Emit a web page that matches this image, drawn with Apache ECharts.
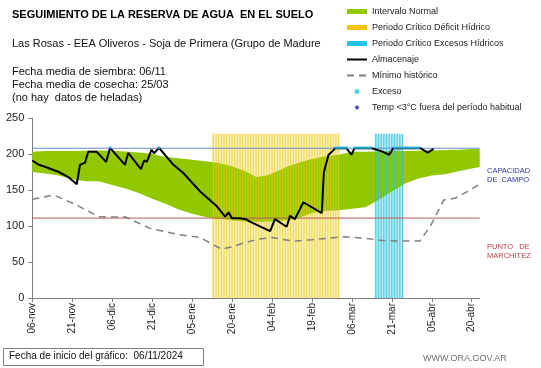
<!DOCTYPE html>
<html><head><meta charset="utf-8">
<script src="https://cdn.jsdelivr.net/npm/echarts@6/dist/echarts.min.js"></script>
<style>html,body{margin:0;padding:0;background:#fff}#c{width:541px;height:368px}</style>
</head><body><div id="c"></div>
<script>
// ---- data (day offsets from 06-nov-2024) ----
const xTickLabels = ['06-nov','21-nov','06-dic','21-dic','05-ene','20-ene','04-feb','19-feb','06-mar','21-mar','05-abr','20-abr'];
const normalDays = [0,5,10,15,20,25,30,35,40,45,50,55,60,65,70,75,80,84,88,92,96,100,105,110,115,120,125,130,135,140,145,150,155,160,165,168];
const normalHigh = [203,204,204,204,204.5,205,204.5,203.5,202,200,196,194,192,190,187.5,183,176,168,170,176,183,188,193,197,199,203,203,203.5,204,204,204.5,205,205.5,206,207,207];
const normalLow  = [175,173,170,165,162,162,157,152,146,138,131,123,117,112.5,110,108,106,106,106,107,108,111,118,121,122,124,126,136,148,159,166,170,172,176,180,182];
const almDays   = [0,2.5,5,10,13.5,16.7,17.3,17.9,19.8,21,24.2,27.7,29.2,34.8,36,40.8,42,43,44.8,45.7,47.6,53,56.6,63,69.4,72.4,73.7,75,78,80.5,81.7,89.3,91.1,95.5,96.8,98.6,101.8,108.7,109.5,111.2,113,113.7,118,119.8,121,127.5,131,134,135.5,145.7,148.5,150.7];
const almValues = [191,185,182,175,168,158,155.5,185,188,203,203,189,208.5,185,201.5,179,191,189,206,201,208.5,185,174,148,127,113,119,110.7,110.7,109,106,93,109.5,99,114,109.5,133,118,175,198.6,205,208,208,199,208,208,204,199,208,208,202,207];
const minDays   = [0,4,8,15,25,28,35,44,55,63,71,75,79,85,90,98,105,117,125,131,140,145.5,149.5,154.5,158.7,163,167.5];
const minValues = [137,140,143,132,113,112.5,112.5,97,88,84,68,71,76,82,84,79,81,85,83,80,79,79,100,136,138.5,147,157];
const excesoDays = [29.2,47.6,114,115,116,117,118,121,122,123,124,125,126,127,136,137,138,139,140,141,142,143,144,145];
const excesoValue = 209;
const deficitFirstDay = 68, deficitLastDay = 115;
const excesosFirstDay = 129, excesosLastDay = 139;
const criticalTop = 228;
const capacidadCampo = 208;
const puntoMarchitez = 111;
const axisMaxDay = 168;

// ---- build ----
const zip = (a, b) => a.map((v, i) => [v, b[i]]);
const range = (s, e) => { const r = []; for (let d = s; d <= e; d++) r.push(d); return r; };
const FONT = 'Liberation Sans, Arial, sans-serif';
const GREEN = '#92c800';
const DIAMOND = 'path://M5,0 L10,5 L5,10 L0,5 Z';

const chart = echarts.init(document.getElementById('c'));
chart.setOption({
  animation: false,
  textStyle: { fontFamily: FONT },
  grid: { left: 32.3, right: 61.3, top: 118, bottom: 70, containLabel: false, outerBoundsMode: 'none' },
  legend: {
    left: 346, top: 7, orient: 'vertical', itemWidth: 20, itemHeight: 5, itemGap: 7,
    padding: 0, symbolKeepAspect: true,
    textStyle: { fontSize: 9, color: '#222', fontFamily: FONT },
    data: [
      { name: 'Intervalo Normal', icon: 'rect', itemStyle: { color: GREEN, opacity: 1 } },
      { name: 'Periodo Crítico Déficit Hídrico', icon: 'rect', itemStyle: { color: '#f5c400', opacity: 1 } },
      { name: 'Periodo Crítico Excesos Hídricos', icon: 'rect', itemStyle: { color: '#22c4ee', opacity: 1 } },
      { name: 'Almacenaje', itemStyle: { opacity: 0 } },
      { name: 'Mínimo histórico', itemStyle: { opacity: 0 } },
      { name: 'Exceso', icon: 'circle' },
      { name: 'Temp <3°C fuera del período habitual', icon: DIAMOND }
    ]
  },
  xAxis: {
    type: 'value', min: 0, max: axisMaxDay, interval: 15,
    axisLine: { lineStyle: { color: '#808080' } },
    axisTick: { length: 4, lineStyle: { color: '#808080' } },
    splitLine: { show: false },
    axisLabel: {
      rotate: 90, fontSize: 10, color: '#222', margin: 5, showMaxLabel: false,
      formatter: v => (v % 15 === 0 && xTickLabels[v / 15]) ? xTickLabels[v / 15] : ''
    }
  },
  yAxis: {
    type: 'value', min: 0, max: 250, interval: 50,
    name: 'Milímetros', nameLocation: 'middle', nameGap: 31, nameRotate: 90,
    nameTextStyle: { fontSize: 7, color: '#111' },
    axisLine: { show: true, lineStyle: { color: '#808080' } },
    axisTick: { show: true, length: 4, lineStyle: { color: '#808080' } },
    splitLine: { show: false },
    axisLabel: { fontSize: 11, color: '#222', margin: 8 }
  },
  series: [
    {
      name: 'fondo', type: 'line', data: [], silent: true, z: 1,
      markArea: {
        silent: true,
        data: [
          [{ xAxis: deficitFirstDay - 0.5, yAxis: 0, itemStyle: { color: 'rgba(250,240,180,0.8)' } }, { xAxis: deficitLastDay + 0.4, yAxis: criticalTop }],
          [{ xAxis: excesosFirstDay - 0.5, yAxis: 0, itemStyle: { color: 'rgba(180,232,245,0.8)' } }, { xAxis: excesosLastDay + 0.4, yAxis: criticalTop }]
        ]
      }
    },
    {
      name: 'Intervalo Normal', type: 'custom', data: [[0, 0]], z: 2,
      itemStyle: { color: GREEN }, silent: true,
      renderItem: (params, api) => {
        if (params.dataIndex !== 0) return;
        const pts = [];
        normalDays.forEach((d, i) => pts.push(api.coord([d, normalHigh[i]])));
        for (let i = normalDays.length - 1; i >= 0; i--) pts.push(api.coord([normalDays[i], normalLow[i]]));
        return { type: 'polygon', shape: { points: pts }, style: { fill: GREEN } };
      }
    },
    {
      name: 'Periodo Crítico Déficit Hídrico', type: 'bar', barWidth: 1.2, barGap: '-100%',
      data: range(deficitFirstDay, deficitLastDay).map(d => [d, criticalTop]),
      itemStyle: { color: 'rgba(236,204,30,0.72)' }, z: 3
    },
    {
      name: 'Periodo Crítico Excesos Hídricos', type: 'bar', barWidth: 1.2, barGap: '-100%',
      data: range(excesosFirstDay, excesosLastDay).map(d => [d, criticalTop]),
      itemStyle: { color: 'rgba(30,190,220,0.7)' }, z: 3
    },
    {
      name: 'Capacidad de campo', type: 'line', data: [[0, capacidadCampo], [axisMaxDay, capacidadCampo]],
      symbol: 'none', lineStyle: { color: '#6a8fd0', width: 1 }, silent: true, z: 4
    },
    {
      name: 'Punto de marchitez', type: 'line', data: [[0, puntoMarchitez], [axisMaxDay, puntoMarchitez]],
      symbol: 'none', lineStyle: { color: '#b85a5a', width: 1 }, silent: true, z: 4
    },
    {
      name: 'Mínimo histórico', type: 'line', data: zip(minDays, minValues),
      symbol: 'none', itemStyle: { color: '#808080' },
      lineStyle: { color: '#808080', width: 1.5, type: [7, 5] }, z: 5
    },
    {
      name: 'Almacenaje', type: 'line', data: zip(almDays, almValues),
      symbol: 'none', itemStyle: { color: '#000' },
      lineStyle: { color: '#000', width: 2 }, z: 6
    },
    {
      name: 'Exceso', type: 'scatter', data: excesoDays.map(d => [d, excesoValue]),
      symbol: 'circle', symbolSize: 3, itemStyle: { color: '#2ccbee' }, z: 7
    },
    {
      name: 'Temp <3°C fuera del período habitual', type: 'scatter', data: [],
      symbol: DIAMOND, symbolSize: 5, itemStyle: { color: '#1c1ca0' }, z: 7
    }
  ],
  graphic: [
    { type: 'text', left: 12, top: 9, style: { text: 'SEGUIMIENTO DE LA RESERVA DE AGUA  EN EL SUELO', font: 'bold 11px ' + FONT, fill: '#000' } },
    { type: 'text', left: 12, top: 38, style: { text: 'Las Rosas - EEA Oliveros - Soja de Primera (Grupo de Madure', font: '11px ' + FONT, fill: '#111' } },
    { type: 'text', left: 12, top: 66, style: { text: 'Fecha media de siembra: 06/11', font: '11px ' + FONT, fill: '#111' } },
    { type: 'text', left: 12, top: 79, style: { text: 'Fecha media de cosecha: 25/03', font: '11px ' + FONT, fill: '#111' } },
    { type: 'text', left: 12, top: 92, style: { text: '(no hay  datos de heladas)', font: '11px ' + FONT, fill: '#111' } },
    { type: 'text', left: 487, top: 166, style: { text: 'CAPACIDAD\nDE  CAMPO', font: '7.5px ' + FONT, fill: '#3434a8', lineHeight: 9.5 } },
    { type: 'text', left: 487, top: 242, style: { text: 'PUNTO   DE\nMARCHITEZ', font: '7.5px ' + FONT, fill: '#c0404a', lineHeight: 9.5 } },
    { type: 'rect', shape: { x: 3.5, y: 348.5, width: 200, height: 17 }, style: { fill: 'none', stroke: '#8a7f7f', lineWidth: 1 } },
    { type: 'text', left: 9, top: 351, style: { text: 'Fecha de inicio del gráfico:  06/11/2024', font: '10px ' + FONT, fill: '#111' } },
    { type: 'text', left: 423, top: 354, style: { text: 'WWW.ORA.GOV.AR', font: '9px ' + FONT, fill: '#707070' } }
  ]
});
</script></body></html>
